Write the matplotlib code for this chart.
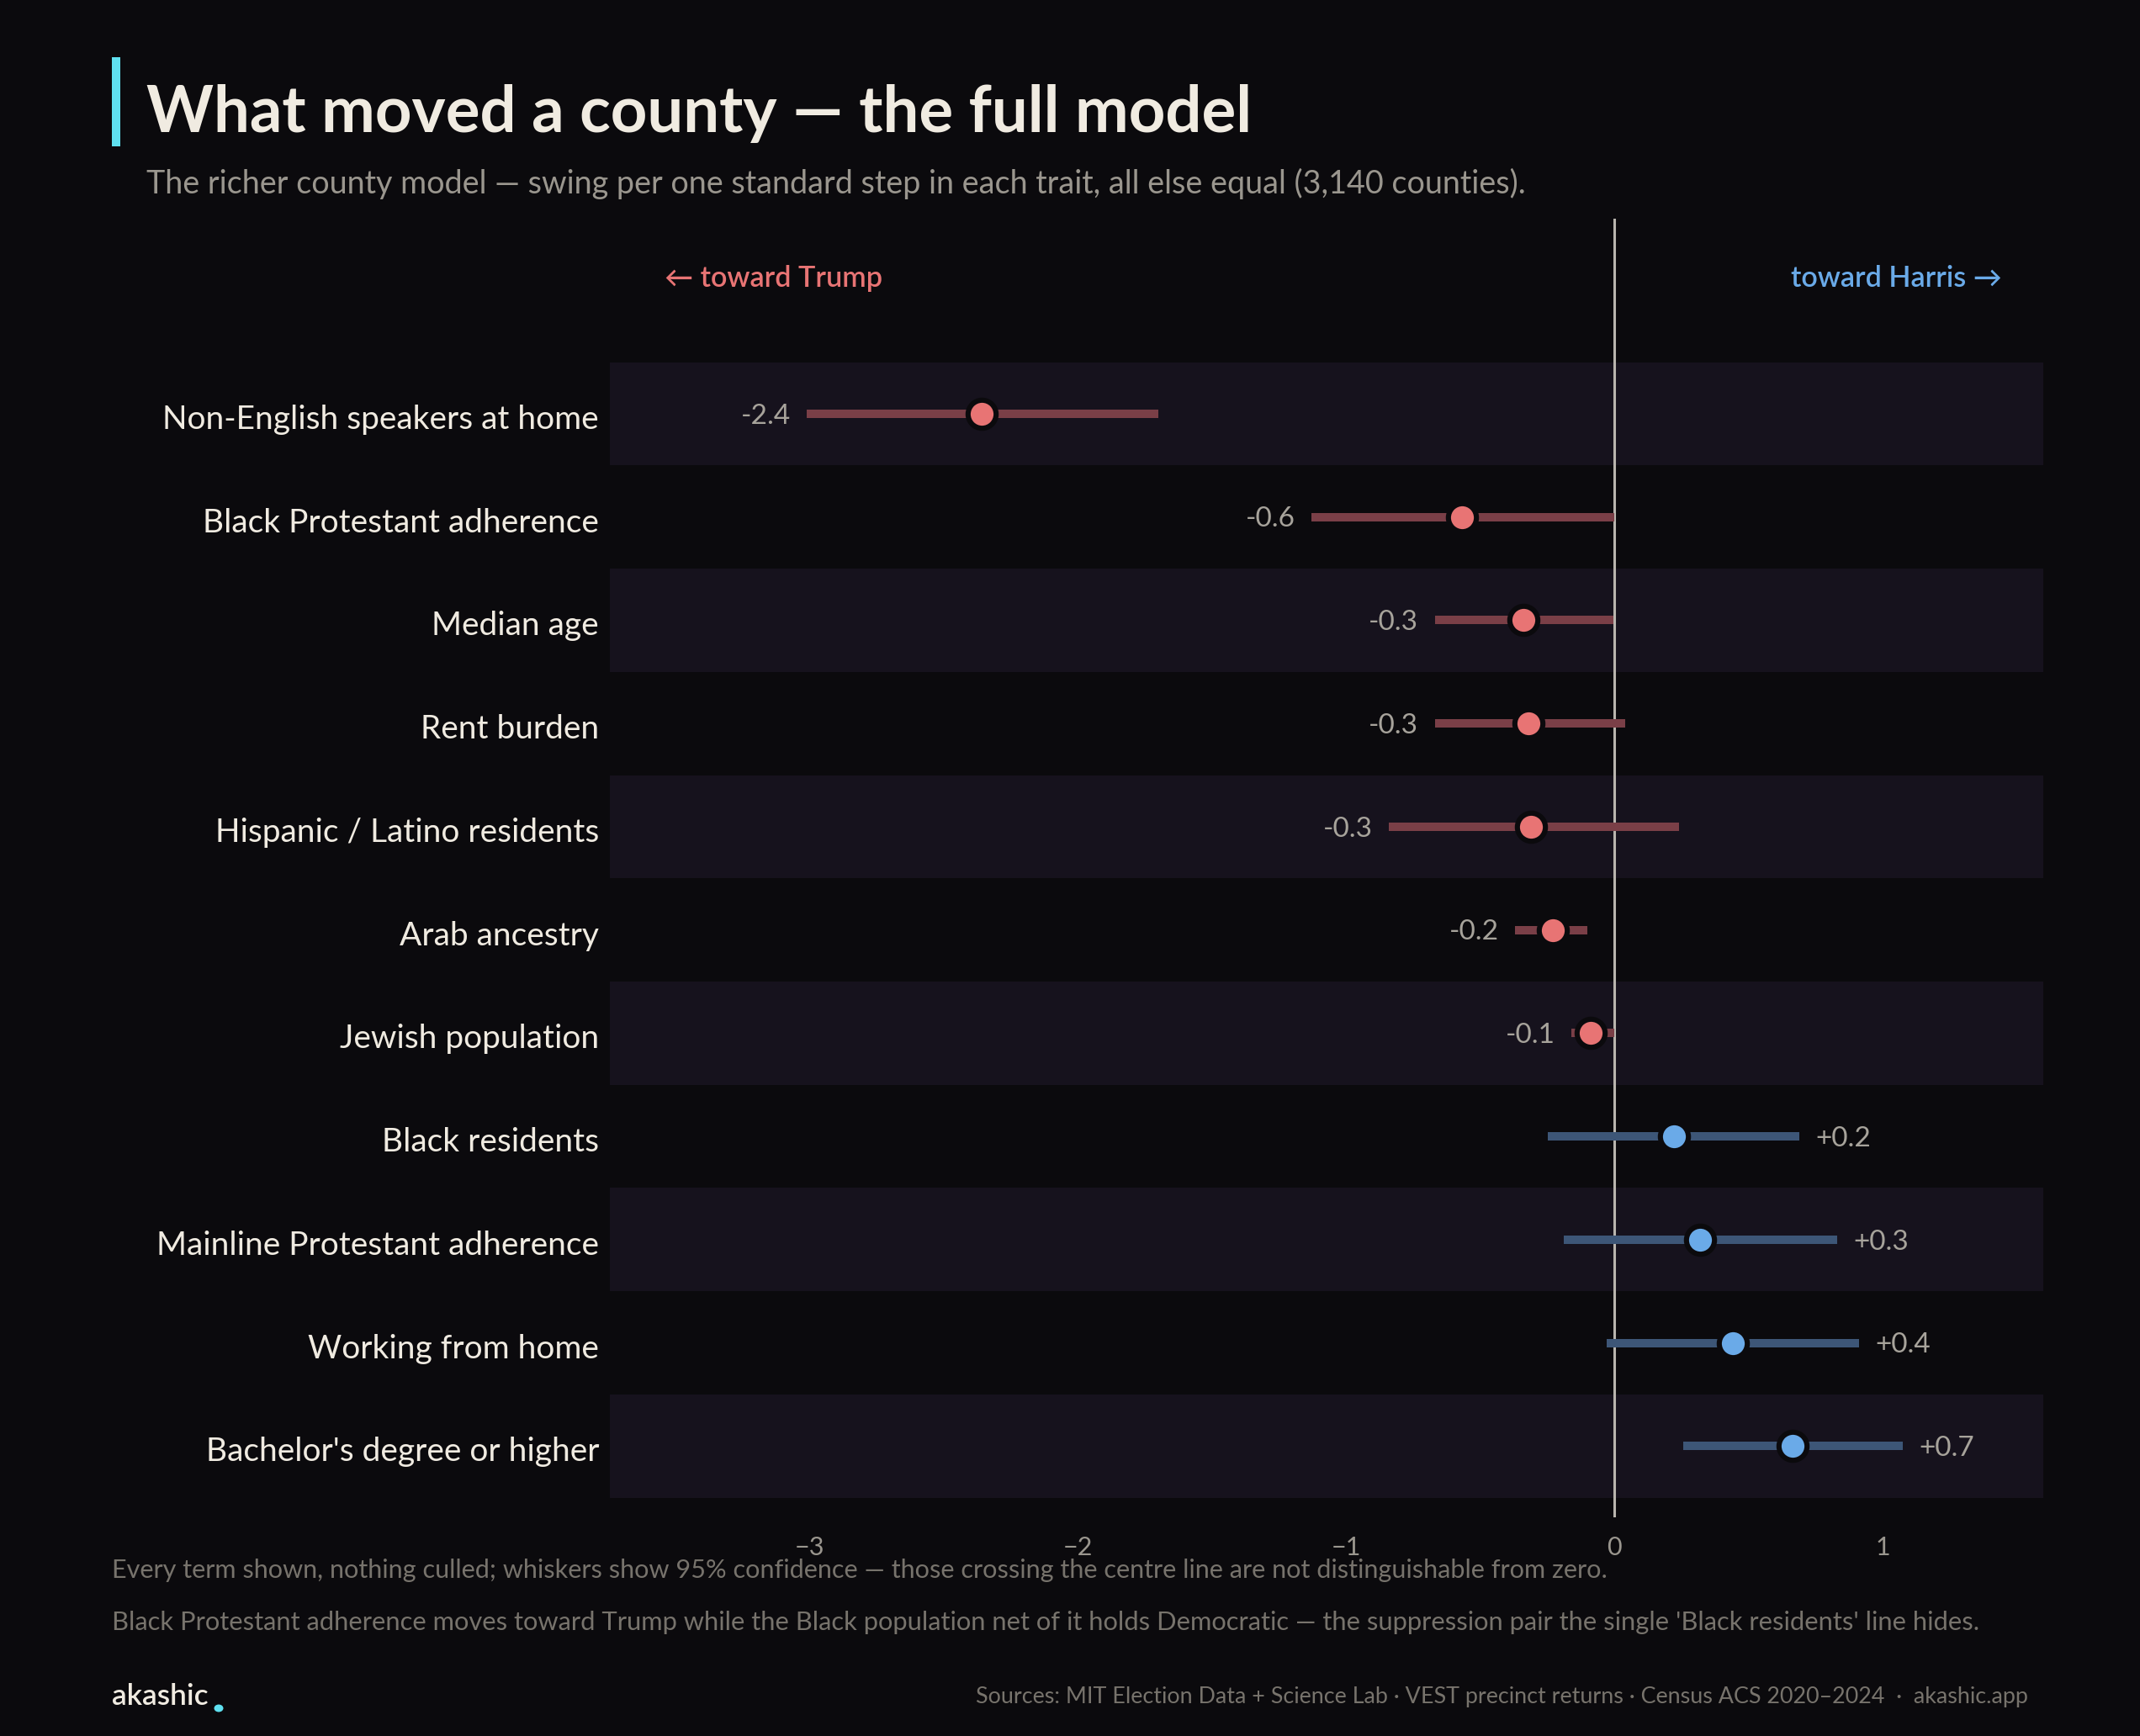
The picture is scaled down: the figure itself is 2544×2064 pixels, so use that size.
import matplotlib
matplotlib.use("Agg")
import matplotlib.pyplot as plt
import matplotlib.transforms as mtransforms
from matplotlib.patches import Rectangle, Circle

# ---------------- data ----------------
categories = [
    "Non-English speakers at home",
    "Black Protestant adherence",
    "Median age",
    "Rent burden",
    "Hispanic / Latino residents",
    "Arab ancestry",
    "Jewish population",
    "Black residents",
    "Mainline Protestant adherence",
    "Working from home",
    "Bachelor's degree or higher",
]
estimates = [-2.36, -0.57, -0.34, -0.32, -0.31, -0.23, -0.09, 0.22, 0.32, 0.44, 0.665]
ci_low = [-3.01, -1.13, -0.67, -0.67, -0.84, -0.37, -0.16, -0.25, -0.19, -0.03, 0.255]
ci_high = [-1.70, 0.00, -0.005, 0.04, 0.24, -0.10, 0.00, 0.69, 0.83, 0.91, 1.075]
value_labels = ["-2.4", "-0.6", "-0.3", "-0.3", "-0.3", "-0.2", "-0.1", "+0.2", "+0.3", "+0.4", "+0.7"]
xticks = [-3, -2, -1, 0, 1]
xtick_labels = ["\u22123", "\u22122", "\u22121", "0", "1"]

# ---------------- style ----------------
BG = "#0b0a0d"
BAND = "#16121d"
RED = "#e87474"
RED_CI = "#7a3f47"
BLUE = "#6aaae8"
BLUE_CI = "#3d5677"
ZERO = "#b9b5ae"
CREAM = "#f0ebe1"
SUB = "#9a968e"
VAL = "#a7a39b"
FOOT = "#77736c"
CYAN = "#5fe0f0"
FONT = "Lato"

W, H, DPI = 2544, 2064, 200
fig = plt.figure(figsize=(W / DPI, H / DPI), dpi=DPI, facecolor=BG)

def fx(px):
    return px / W

def fy(py):
    return 1 - py / H

ax_left, ax_right, ax_top, ax_bottom = 725, 2429, 260, 1804
ax = fig.add_axes([fx(ax_left), fy(ax_bottom), fx(ax_right - ax_left), (ax_bottom - ax_top) / H])
ax.set_facecolor(BG)
n = len(categories)
ax.set_xlim(-3.745, 1.598)
ax.set_ylim(n - 1 + 0.69, -1.89)
for s in ax.spines.values():
    s.set_visible(False)
ax.set_yticks([])
ax.set_xticks(xticks)
ax.set_xticklabels(xtick_labels)
ax.tick_params(axis="x", length=0, pad=8, labelsize=11, labelcolor=SUB)
for lbl in ax.get_xticklabels():
    lbl.set_fontfamily(FONT)

# alternating bands
for i in range(n):
    if i % 2 == 0:
        ax.axhspan(i - 0.5, i + 0.5, color=BAND, zorder=0, lw=0)

# zero line
ax.axvline(0, color=ZERO, lw=1.1, zorder=1)

ytrans = mtransforms.blended_transform_factory(ax.transAxes, ax.transData)
lbl_off = mtransforms.offset_copy(ytrans, fig=fig, x=0, y=-2.5, units="points")
for i, (cat, est, lo, hi, vl) in enumerate(zip(categories, estimates, ci_low, ci_high, value_labels)):
    pos = est >= 0
    ci_col = BLUE_CI if pos else RED_CI
    pt_col = BLUE if pos else RED
    ax.plot([lo, hi], [i, i], color=ci_col, lw=3.6, solid_capstyle="butt", zorder=2)
    ax.plot([est], [i], marker="o", ms=12, mfc=pt_col, mec=BG, mew=2.2, zorder=3)
    if pos:
        ax.annotate(vl, (hi, i), xytext=(7, -1), textcoords="offset points",
                    ha="left", va="center", fontsize=12, color=VAL, family=FONT)
    else:
        ax.annotate(vl, (lo, i), xytext=(-7, -1), textcoords="offset points",
                    ha="right", va="center", fontsize=12, color=VAL, family=FONT)
    ax.text(-0.0076, i, cat, transform=lbl_off, ha="right", va="center",
            fontsize=14, color=CREAM, family=FONT)

# direction labels
ax.text(-3.54, -1.31, "\u2190 toward Trump", ha="left", va="center", fontsize=12.3,
        color=RED, family=[FONT, "DejaVu Sans"], fontweight="semibold")
ax.text(1.445, -1.31, "toward Harris \u2192", ha="right", va="center", fontsize=12.3,
        color=BLUE, family=[FONT, "DejaVu Sans"], fontweight="semibold")

# title area
fig.patches.append(Rectangle((fx(133), fy(174)), fx(10), (174 - 68) / H,
                             transform=fig.transFigure, color=CYAN, lw=0))
fig.text(fx(174), fy(157), "What moved a county \u2014 the full model", ha="left", va="baseline",
         fontsize=27.4, fontweight="bold", color=CREAM, family=FONT)
fig.text(fx(174), fy(218), "The richer county model \u2014 swing per one standard step in each trait, all else equal (3,140 counties).",
         ha="left", va="center", fontsize=13.6, color=SUB, family=FONT)

# footnotes
fig.text(fx(133), fy(1867), "Every term shown, nothing culled; whiskers show 95% confidence \u2014 those crossing the centre line are not distinguishable from zero.",
         ha="left", va="center", fontsize=11.05, color=FOOT, family=FONT)
fig.text(fx(133), fy(1929), "Black Protestant adherence moves toward Trump while the Black population net of it holds Democratic \u2014 the suppression pair the single 'Black residents' line hides.",
         ha="left", va="center", fontsize=11.1, color=FOOT, family=FONT)

# footer
t = fig.text(fx(133), fy(2017), "akashic", ha="left", va="center", fontsize=12.7,
             fontweight="semibold", color=CREAM, family=FONT)
fig.patches.append(Circle((fx(260), fy(2031)), 5.5 / W, transform=fig.transFigure, color=CYAN, lw=0))
fig.text(fx(2411), fy(2017), "Sources: MIT Election Data + Science Lab \u00b7 VEST precinct returns \u00b7 Census ACS 2020\u20132024  \u00b7  akashic.app",
         ha="right", va="center", fontsize=9.7, color=FOOT, family=FONT)

fig.savefig("out.png", dpi=DPI, facecolor=BG)
